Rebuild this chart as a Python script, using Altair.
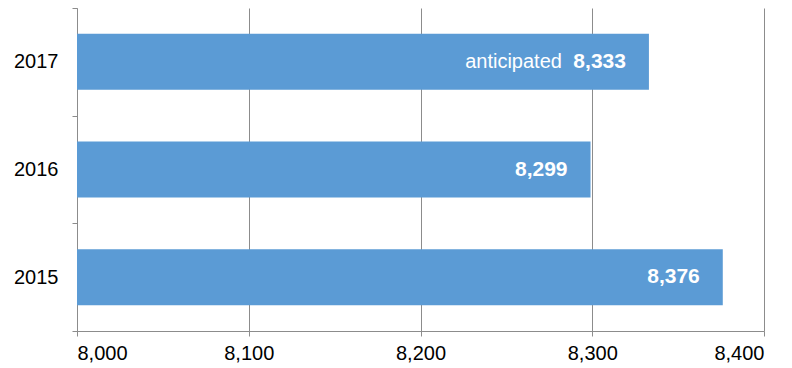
import altair as alt
import pandas as pd

years = ["2017", "2016", "2015"]
values = [8333, 8299, 8376]
prefixes = ["anticipated", "", ""]
x_ticks = [8000, 8100, 8200, 8300, 8400]
base_value = 8000

df = pd.DataFrame({
    "year": years,
    "value": values,
    "prefix": prefixes,
    "base": [base_value] * len(years),
})

FONT = "Liberation Sans"
GRAY = "#8c8c8c"

y_enc = alt.Y(
    "year:N", sort=years, title=None,
    scale=alt.Scale(paddingInner=0, paddingOuter=0),
    axis=alt.Axis(tickBand="extent", domainColor=GRAY, tickColor=GRAY, tickSize=5,
                  labelFontSize=20, labelFont=FONT, labelColor="#000000",
                  labelPadding=14, grid=False),
)
x_enc = alt.X(
    "value:Q", title=None,
    scale=alt.Scale(domain=[x_ticks[0], x_ticks[-1]], zero=False, nice=False),
    axis=alt.Axis(values=x_ticks, format=",d", grid=True, gridColor=GRAY,
                  domainColor=GRAY, tickColor=GRAY, tickSize=5,
                  labelFontSize=20, labelFont=FONT, labelColor="#000000",
                  labelPadding=7),
)

bars = alt.Chart(df).mark_bar(size=56, color="#5B9BD5").encode(
    y=y_enc, x=x_enc, x2="base:Q"
)

nums = alt.Chart(df).mark_text(
    align="right", baseline="middle", dx=-23, color="white",
    fontWeight="bold", fontSize=21, font=FONT
).encode(
    y=y_enc,
    x=x_enc,
    text=alt.Text("value:Q", format=",d"),
)

pre = alt.Chart(df).transform_filter("datum.prefix != ''").mark_text(
    align="right", baseline="middle", dx=-87, color="white",
    fontWeight="normal", fontSize=20, font=FONT
).encode(
    y=y_enc,
    x=x_enc,
    text="prefix:N",
)

chart = alt.layer(bars, nums, pre).properties(
    width=687, height=323,
    autosize=alt.AutoSizeParams(type="none"),
    padding={"left": 77, "top": 8, "right": 28, "bottom": 37},
).configure_view(stroke=None)

chart.save("out.html", embed_options={"renderer": "svg", "actions": False})
